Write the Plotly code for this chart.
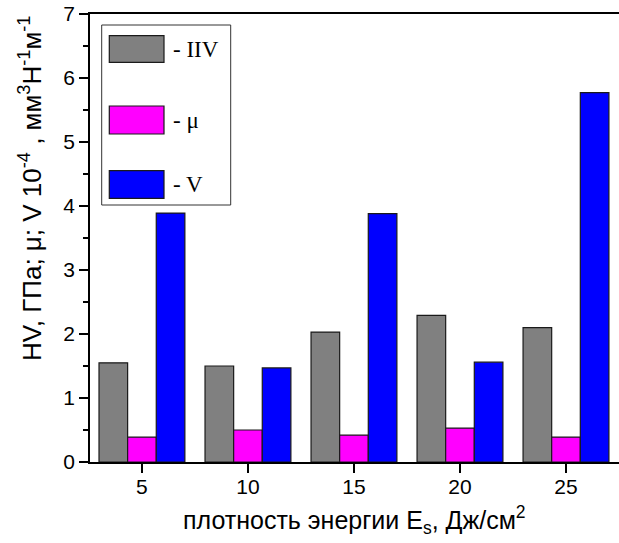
import plotly.graph_objects as go

energy = [5, 10, 15, 20, 25]
hv = [1.55, 1.50, 2.03, 2.29, 2.10]
mu = [0.39, 0.50, 0.42, 0.53, 0.39]
wear = [3.89, 1.47, 3.88, 1.56, 5.77]

series_names = ["- IIV", "- μ", "- V"]
series_colors = ["#808080", "#FF00FF", "#0000FF"]

W, H = 619, 543
L, R, T, B = 90, 0, 14, 81
pw, ph = W - L - R, H - T - B

def px(x):
    return (x - L) / pw

def py(y):
    return (H - B - y) / ph

fig = go.Figure()
for vals, name, col in zip([hv, mu, wear], series_names, series_colors):
    fig.add_trace(go.Bar(x=energy, y=vals, name=name, marker_color=col,
                         marker_line=dict(color="#1a1a1a", width=1.2)))

fig.update_layout(
    width=W, height=H, margin=dict(l=L, r=R, t=T, b=B),
    paper_bgcolor="white", plot_bgcolor="white",
    barmode="group", bargap=0.19, bargroupgap=0,
    showlegend=False,
    font=dict(family="Liberation Sans, Arial", color="black", size=21),
)
fig.update_xaxes(range=[2.55, 27.5], tickvals=energy, ticks="outside", ticklen=9,
                 tickwidth=1.5, tickcolor="black", showline=True, linecolor="black",
                 linewidth=1.5, mirror=True, showgrid=False, zeroline=False,
                 tickfont=dict(size=21), ticklabelstandoff=-4)
fig.update_yaxes(range=[0, 7], dtick=1, ticks="outside", ticklen=9, tickwidth=1.5,
                 tickcolor="black", showline=True, linecolor="black", linewidth=1.5,
                 showgrid=False, zeroline=False, tickfont=dict(size=21),
                 minor=dict(dtick=0.5, ticks="outside", ticklen=5, tickwidth=1.5,
                            tickcolor="black"))

# axis titles
fig.add_annotation(text="плотность энергии E<sub>s</sub>, Дж/см<sup>2</sup>",
                   xref="paper", yref="paper", x=0.5, y=py(520), showarrow=False,
                   font=dict(size=25, family="Liberation Sans, Arial"),
                   xanchor="center", yanchor="middle")
fig.add_annotation(text="HV, ГПа; μ; V 10<sup>-4</sup> , мм<sup>3</sup>Н<sup>-1</sup>м<sup>-1</sup>",
                   xref="paper", yref="paper", x=px(30), y=py(189), showarrow=False,
                   textangle=-90, font=dict(size=26, family="Liberation Sans, Arial"),
                   xanchor="center", yanchor="middle")

# legend box drawn manually
fig.add_shape(type="rect", xref="paper", yref="paper",
              x0=px(101.7), x1=px(230.7), y0=py(205), y1=py(25),
              line=dict(color="#333333", width=1), fillcolor="white")
rows = [(35.7, 62.3), (106, 134), (170.7, 198.3)]
for (y0, y1), name, col in zip(rows, series_names, series_colors):
    fig.add_shape(type="rect", xref="paper", yref="paper",
                  x0=px(109.3), x1=px(164), y0=py(y1), y1=py(y0),
                  line=dict(color="#1a1a1a", width=1.2), fillcolor=col)
    fig.add_annotation(text=name, xref="paper", yref="paper", x=px(171),
                       y=py((y0 + y1) / 2), showarrow=False, xanchor="left",
                       yanchor="middle",
                       font=dict(size=23, family="Liberation Serif, Times New Roman"))

fig.write_html("out.html")
